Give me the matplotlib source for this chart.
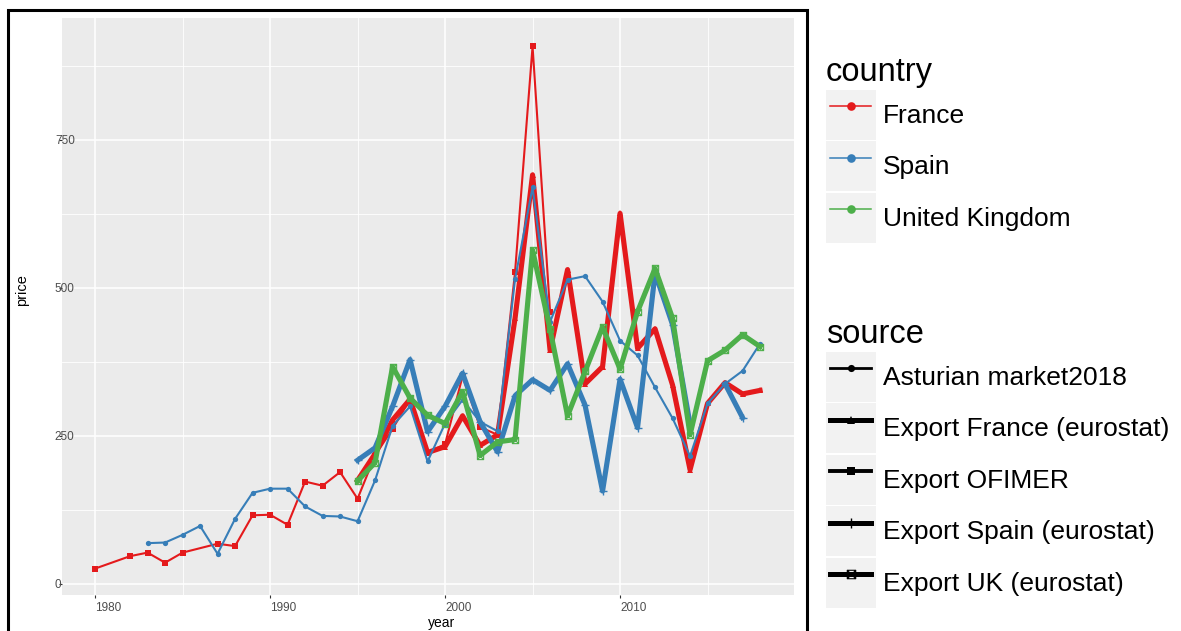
import numpy as np
import matplotlib
matplotlib.use("Agg")
import matplotlib.pyplot as plt
from matplotlib.lines import Line2D
from matplotlib.patches import Rectangle
from matplotlib.path import Path
from matplotlib.legend_handler import HandlerLine2D

plt.rcParams['font.family'] = ['Liberation Sans', 'DejaVu Sans']

# prix par source (NaN = annee manquante)
ofimer_years = [1980, 1982, 1983, 1984, 1985, 1987, 1988] + list(range(1989, 2007))
ofimer_price = [26, 47, 53, 36, 53, 68, 64,
                116, 117, 100, 173, 166, 189, 144, 217, 262, 312, 222, 236,
                351, 265, 252, 527, 908, 460]

asturias_years = list(range(1983, 2019))
asturias_price = [69, 70, 83, 98, 51, 110, 154, 161, 161, 131, 115, 114, 106,
                  175, 267, 300, 207, 271, 311, 274, 258, 515, 670, 443, 514,
                  520, 477, 411, 386, 332, 280, 216, 305, 338, 360, 406]

fr_years = list(range(1995, 2019))
fr_price = [175, 220, 277, 312, 222, 232, 284, 234, 252, 449, 691, 395,
            531, 338, 367, 626, 398, 431, 336, 193, 305, 340, 321, 327]

es_years = list(range(1995, 2018))
es_price = [209, 230, 300, 379, 257, 300, 356, 274, 223, 318, 345, 327,
            372, 302, 157, 346, 264, 525, 438, 270, np.nan, 338, 281]

uk_years = list(range(1995, 2019))
uk_price = [174, 205, 367, 314, 285, 271, 325, 217, 240, 244, 564, 430,
            284, 359, 434, 363, 460, 533, 449, 252, 377, 395, 421, 401]

countries = ['France', 'Spain', 'United Kingdom']
sources = ['Asturian market2018', 'Export France (eurostat)', 'Export OFIMER',
           'Export Spain (eurostat)', 'Export UK (eurostat)']

col = {'France': '#E41A1C', 'Spain': '#377EB8', 'United Kingdom': '#4DAF4A'}

# carre avec croix (shape 7 de ggplot)
boxx = Path([(-1, -1), (1, -1), (1, 1), (-1, 1), (-1, -1),
             (-1, -1), (1, 1), (-1, 1), (1, -1)],
            [Path.MOVETO, Path.LINETO, Path.LINETO, Path.LINETO, Path.CLOSEPOLY,
             Path.MOVETO, Path.LINETO, Path.MOVETO, Path.LINETO])

style = {
    'Asturian market2018': dict(lw=1.5, marker='o', ms=3.8, mew=0),
    'Export France (eurostat)': dict(lw=3.7, marker='^', ms=4.5, mew=0),
    'Export OFIMER': dict(lw=1.5, marker='s', ms=3.8, mew=0),
    'Export Spain (eurostat)': dict(lw=3.7, marker='+', ms=5.5, mew=1.0),
    'Export UK (eurostat)': dict(lw=3.7, marker=boxx, ms=4.5, mew=0.8, mfc='none'),
}

series = [
    ('France', 'Export France (eurostat)', fr_years, fr_price),
    ('France', 'Export OFIMER', ofimer_years, ofimer_price),
    ('Spain', 'Asturian market2018', asturias_years, asturias_price),
    ('Spain', 'Export Spain (eurostat)', es_years, es_price),
    ('United Kingdom', 'Export UK (eurostat)', uk_years, uk_price),
]

W, H = 1181, 631
fig = plt.figure(figsize=(W / 100, H / 100), dpi=100)
ax = fig.add_axes([62 / W, 1 - 595 / H, 732 / W, 577 / H])
ax.set_facecolor('#EBEBEB')
for s in ax.spines.values():
    s.set_visible(False)

for c, src, x, y in series:
    ax.plot(x, y, color=col[c], solid_joinstyle='round', **style[src])

ax.set_xlim(1978.11, 2019.94)
ax.set_ylim(-18.6, 956)
ax.set_xticks([1980, 1990, 2000, 2010])
ax.set_xticks([1985, 1995, 2005, 2015], minor=True)
ax.set_yticks([0, 250, 500, 750])
ax.set_yticks([125, 375, 625, 875], minor=True)
ax.grid(which='major', color='white', lw=1.1)
ax.grid(which='minor', color='white', lw=0.6)
ax.set_axisbelow(True)
ax.tick_params(which='major', length=2.2, width=0.8, color='#333333',
               labelsize=8.5, labelcolor='#4D4D4D', pad=2.5)
ax.tick_params(which='minor', length=0)
for lab in ax.get_xticklabels():
    lab.set_ha('left')
for lab in ax.get_yticklabels():
    lab.set_ha('left')
ax.tick_params(axis='y', pad=2.9)

ax.set_xlabel('year', fontsize=10, ha='left', va='top')
ax.xaxis.set_label_coords(0.5, -0.037)
ax.set_ylabel('price', fontsize=10.5, ha='left', va='bottom')
ax.yaxis.set_label_coords(-0.045, 0.5)

# cadre noir autour du graphique
fig.add_artist(Rectangle((8 / W, -0.2), 799 / W, 1.2 - 10 / H, transform=fig.transFigure,
                         fill=False, edgecolor='black', lw=2.2, clip_on=False))


class KeyHandler(HandlerLine2D):
    def create_artists(self, legend, orig_handle, xdescent, ydescent, width, height,
                       fontsize, trans):
        bg = Rectangle((-xdescent, -ydescent), width, height, facecolor='#F2F2F2',
                       edgecolor='none', transform=trans)
        inset = 0.09 * width
        arts = super().create_artists(legend, orig_handle, xdescent - inset, ydescent,
                                      width - 2 * inset, height, fontsize, trans)
        return [bg] + list(arts)


country_handles = [Line2D([], [], color=col[c], lw=1.1, marker='o', ms=6.2, mew=0)
                   for c in countries]
source_lw = {'Asturian market2018': 2.0, 'Export France (eurostat)': 3.6,
             'Export OFIMER': 2.8, 'Export Spain (eurostat)': 3.6,
             'Export UK (eurostat)': 3.6}
source_handles = []
for s in sources:
    st = dict(style[s])
    st['lw'] = source_lw[s]
    st['ms'] = st['ms'] * 1.35
    source_handles.append(Line2D([], [], color='black', **st))

leg_kw = dict(frameon=False, fontsize=19, title_fontsize=23.5, alignment='left',
              handlelength=1.89, handleheight=2.52, labelspacing=0.07,
              handletextpad=0.27, borderpad=0, borderaxespad=0, numpoints=1,
              handler_map={Line2D: KeyHandler()})
fig.legend(country_handles, countries, title='country', loc='upper left',
           bbox_to_anchor=(826 / W, 1 - 57 / H), **leg_kw)
fig.legend(source_handles, sources, title='source', loc='upper left',
           bbox_to_anchor=(826 / W, 1 - 319 / H), **leg_kw)

fig.savefig('out.png', dpi=100)
